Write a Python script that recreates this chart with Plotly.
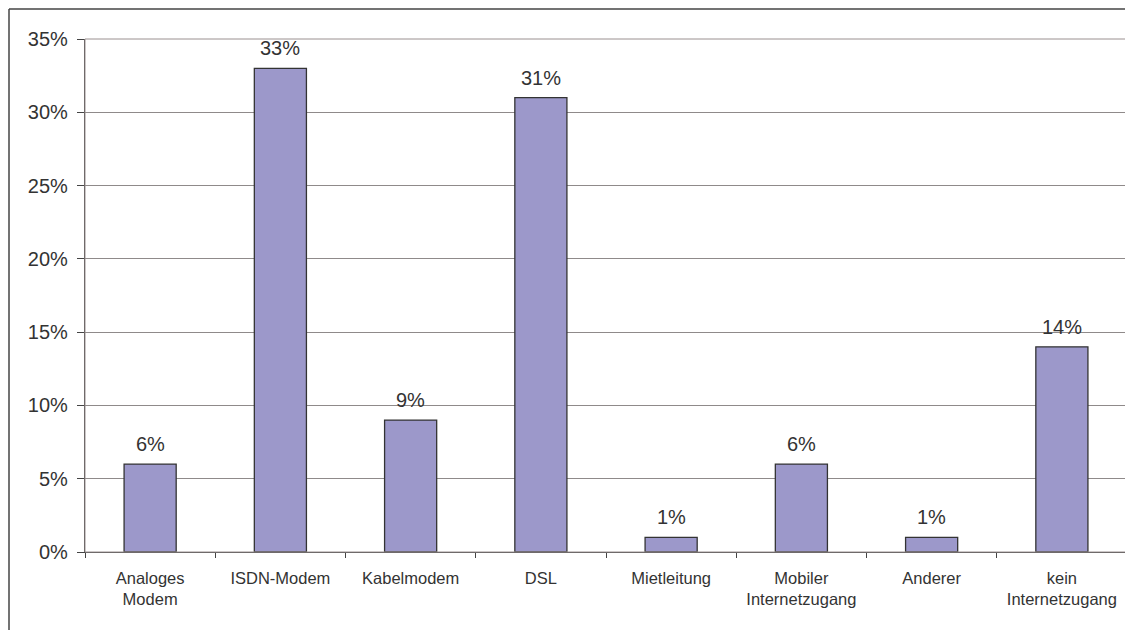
import plotly.graph_objects as go

categories = ["Analoges<br>Modem", "ISDN-Modem", "Kabelmodem", "DSL", "Mietleitung",
              "Mobiler<br>Internetzugang", "Anderer", "kein<br>Internetzugang"]
values = [0.06, 0.33, 0.09, 0.31, 0.01, 0.06, 0.01, 0.14]
y_ticks = [0, 0.05, 0.10, 0.15, 0.20, 0.25, 0.30, 0.35]
y_tick_labels = ["0%", "5%", "10%", "15%", "20%", "25%", "30%", "35%"]

font_family = "Liberation Sans, Arial, sans-serif"

W, H = 1125, 622
ML, MR, MT, MB = 77, 6, 31, 78
PW = W - ML - MR
PH = H - MT - MB

fig = go.Figure(go.Bar(
    x=categories, y=values,
    marker=dict(color="#9C98CA", line=dict(color="#333333", width=1.3)),
    hoverinfo="x+y",
))

for c, v in zip(categories, values):
    fig.add_annotation(
        x=c, y=v, text=f"{round(v*100)}%", showarrow=False,
        yanchor="bottom", yshift=7,
        font=dict(family=font_family, size=20, color="#333333"),
    )

left_x = -(ML - 1) / PW
top_y = 1 + (MT - 1) / PH
fig.update_layout(
    width=W, height=H,
    margin=dict(l=ML, r=MR, t=MT, b=MB),
    paper_bgcolor="white", plot_bgcolor="white",
    bargap=0.6,
    showlegend=False,
    font=dict(family=font_family, color="#333333"),
    shapes=[
        dict(type="rect", xref="paper", yref="paper", x0=0, x1=1, y0=0, y1=1,
             line=dict(color="#9a9090", width=1)),
        dict(type="line", xref="paper", yref="paper", x0=left_x, x1=left_x, y0=top_y, y1=-0.3,
             line=dict(color="#444444", width=1.5)),
        dict(type="line", xref="paper", yref="paper", x0=left_x, x1=1.05, y0=top_y, y1=top_y,
             line=dict(color="#444444", width=1.5)),
    ],
)
fig.update_xaxes(
    tickson="boundaries", ticks="outside", ticklen=5, tickcolor="#444444",
    showline=True, linecolor="#444444", linewidth=1.3,
    showgrid=False, ticklabelstandoff=11,
    tickfont=dict(family=font_family, size=16.5, color="#333333"),
)
fig.update_yaxes(
    range=[0, 0.35], tickvals=y_ticks, ticktext=y_tick_labels,
    ticks="outside", ticklen=7, tickcolor="#444444",
    showline=True, linecolor="#444444", linewidth=1.3,
    showgrid=True, gridcolor="#8f8a8a", gridwidth=1,
    ticklabelstandoff=5,
    tickfont=dict(family=font_family, size=20, color="#333333"),
    zeroline=False,
)

fig.write_html("out.html")
